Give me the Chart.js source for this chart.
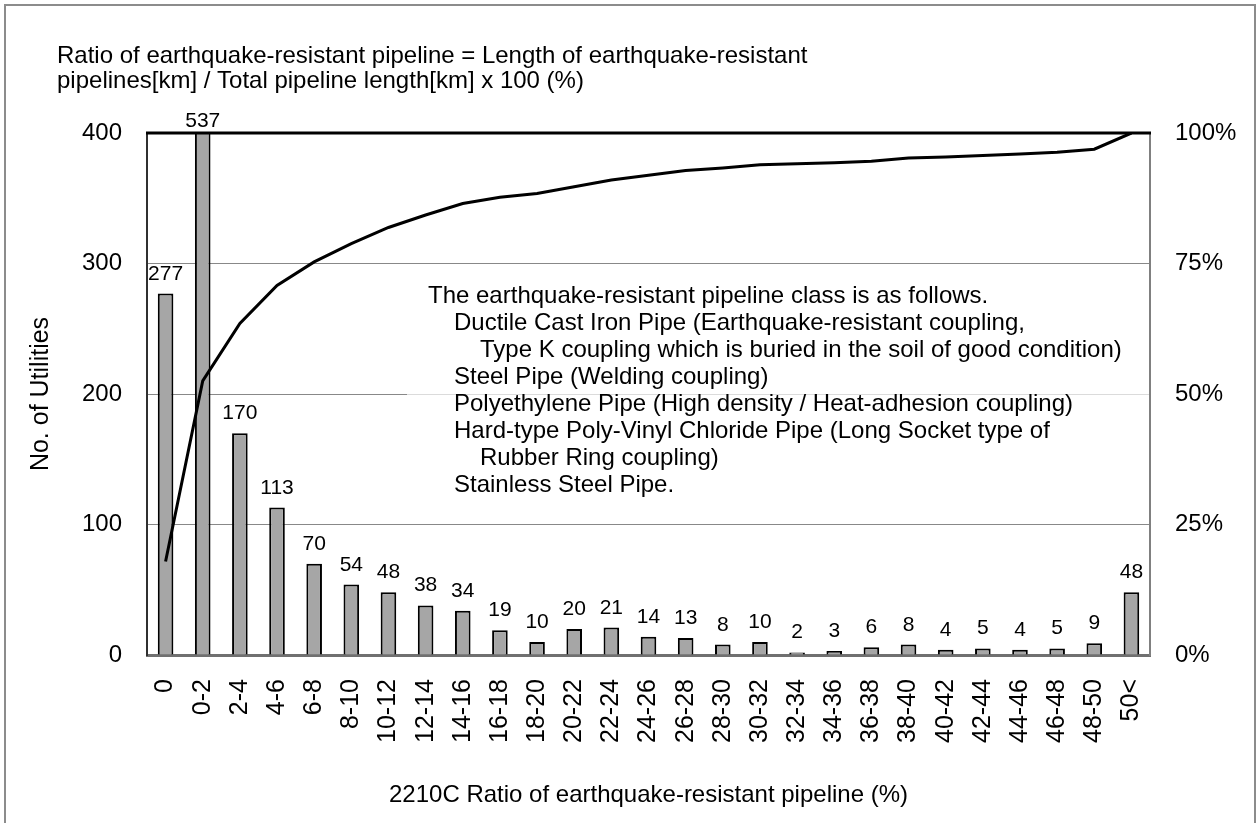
<!DOCTYPE html>
<html lang="en">
<head>
  <meta charset="UTF-8">
  <title>Ratio of earthquake-resistant pipeline</title>
  <script src="https://cdn.jsdelivr.net/npm/chart.js"></script>
  <style>
    body { margin: 0; background: #fff; }
    .frame { position: absolute; left: 4px; top: 4px; width: 1248px; height: 840px; border: 2px solid #8c8c8c; }
    #chart { position: absolute; left: 0; top: 0; }
  </style>
</head>
<body>
  <div class="frame"></div>
  <canvas id="chart" width="1259" height="823"></canvas>

  <script>
    const FONT = "'Liberation Sans', Arial, sans-serif";

    const categories = ['0', '0-2', '2-4', '4-6', '6-8', '8-10', '10-12', '12-14', '14-16', '16-18',
      '18-20', '20-22', '22-24', '24-26', '26-28', '28-30', '30-32', '32-34', '34-36', '36-38',
      '38-40', '40-42', '42-44', '44-46', '46-48', '48-50', '50<'];
    const utilities = [277, 537, 170, 113, 70, 54, 48, 38, 34, 19, 10, 20, 21, 14, 13, 8, 10, 2, 3, 6,
      8, 4, 5, 4, 5, 9, 48];
    // cumulative share of utilities (%)
    const cumulativePct = [17.9, 52.5, 63.5, 70.8, 75.3, 78.8, 81.9, 84.3, 86.5, 87.7, 88.4, 89.7, 91.0,
      91.9, 92.8, 93.3, 93.9, 94.1, 94.3, 94.6, 95.2, 95.4, 95.7, 96.0, 96.3, 96.9, 100];
    const countTicks = [0, 100, 200, 300, 400];
    const pctTicks = [0, 25, 50, 75, 100];

    const titleLines = [
      'Ratio of earthquake-resistant pipeline = Length of earthquake-resistant',
      'pipelines[km] / Total pipeline length[km] x 100 (%)'
    ];
    const noteLines = [
      'The earthquake-resistant pipeline class is as follows.',
      'Ductile Cast Iron Pipe (Earthquake-resistant coupling,',
      'Type K coupling which is buried in the soil of good condition)',
      'Steel Pipe (Welding coupling)',
      'Polyethylene Pipe (High density / Heat-adhesion coupling)',
      'Hard-type Poly-Vinyl Chloride Pipe (Long Socket type of',
      'Rubber Ring coupling)',
      'Stainless Steel Pipe.'
    ];
    const noteIndent = [0, 1, 2, 1, 1, 1, 2, 1];

    const overlay = {
      id: 'overlay',
      beforeDatasetsDraw(chart) {
        // the note box sits over the 200 grid line
        const { ctx, chartArea } = chart;
        ctx.save();
        ctx.fillStyle = 'rgba(255,255,255,0.7)';
        ctx.fillRect(407, 283, chartArea.right - 408, 222);
        ctx.restore();
      },
      afterDatasetsDraw(chart) {
        const { ctx, chartArea } = chart;
        const y = chart.scales.y;
        ctx.save();

        // heavy top edge
        ctx.strokeStyle = '#000';
        ctx.lineWidth = 3;
        ctx.beginPath();
        ctx.moveTo(chartArea.left - 1, chartArea.top);
        ctx.lineTo(chartArea.right + 1, chartArea.top);
        ctx.stroke();

        // bar values
        ctx.fillStyle = '#000';
        ctx.font = '21px ' + FONT;
        ctx.textAlign = 'center';
        ctx.textBaseline = 'alphabetic';
        chart.getDatasetMeta(1).data.forEach((bar, i) => {
          const ly = utilities[i] > y.max ? chartArea.top - 6 : bar.y - 14;
          ctx.fillText(String(utilities[i]), bar.x, ly);
        });
        ctx.restore();
      },
      afterDraw(chart) {
        const { ctx } = chart;
        ctx.save();
        ctx.fillStyle = '#000';
        ctx.textAlign = 'left';
        ctx.textBaseline = 'alphabetic';

        ctx.font = '24px ' + FONT;
        titleLines.forEach((t, i) => ctx.fillText(t, 57, 63 + i * 25));

        ctx.font = '24px ' + FONT;
        noteLines.forEach((t, i) => ctx.fillText(t, 428 + noteIndent[i] * 26, 303 + i * 27));
        ctx.restore();
      }
    };

    new Chart(document.querySelector('#chart'), {
      data: {
        labels: categories,
        datasets: [
          {
            type: 'line',
            data: cumulativePct,
            yAxisID: 'y1',
            borderColor: '#000',
            borderWidth: 3,
            pointRadius: 0,
            tension: 0,
            order: 0
          },
          {
            type: 'bar',
            data: utilities,
            yAxisID: 'y',
            backgroundColor: '#a6a6a6',
            borderColor: '#000',
            borderWidth: 2,
            borderSkipped: 'bottom',
            barPercentage: 0.42,
            categoryPercentage: 1,
            order: 1
          }
        ]
      },
      options: {
        responsive: false,
        animation: false,
        devicePixelRatio: 1,
        layout: { padding: { top: 133, left: 0, right: 0, bottom: 0 } },
        plugins: { legend: { display: false }, tooltip: { enabled: false } },
        scales: {
          x: {
            offset: true,
            grid: { display: false, drawTicks: false },
            border: { display: true, color: '#707070', width: 3 },
            ticks: {
              autoSkip: false, maxRotation: 90, minRotation: 90, padding: 24,
              color: '#000', font: { family: FONT, size: 25 }
            },
            title: {
              display: true, text: '2210C Ratio of earthquake-resistant pipeline (%)',
              color: '#000', font: { family: FONT, size: 24 }, padding: { top: 0, bottom: 13 }
            },
            afterFit: s => { s.height = 168; }
          },
          y: {
            position: 'left',
            min: 0,
            max: 400,
            afterBuildTicks: s => { s.ticks = countTicks.map(v => ({ value: v })); },
            grid: {
              drawTicks: false, tickLength: 0, lineWidth: 1,
              color: c => (c.tick.value === 0 || c.tick.value === 400) ? 'rgba(0,0,0,0)' : '#888'
            },
            border: { display: true, color: '#303030', width: 2 },
            ticks: { padding: 25, color: '#000', font: { family: FONT, size: 24 } },
            title: {
              display: true, text: 'No. of Utilities',
              color: '#000', font: { family: FONT, size: 25 }, padding: { top: 26, bottom: 0 }
            },
            afterFit: s => { s.width = 147; }
          },
          y1: {
            position: 'right',
            min: 0,
            max: 100,
            afterBuildTicks: s => { s.ticks = pctTicks.map(v => ({ value: v })); },
            grid: { display: false, drawTicks: false, tickLength: 0 },
            border: { display: true, color: '#808080', width: 2 },
            ticks: {
              padding: 25, color: '#000', font: { family: FONT, size: 24 },
              callback: v => v + '%'
            },
            afterFit: s => { s.width = 109; }
          }
        }
      },
      plugins: [overlay]
    });
  </script>
</body>
</html>
